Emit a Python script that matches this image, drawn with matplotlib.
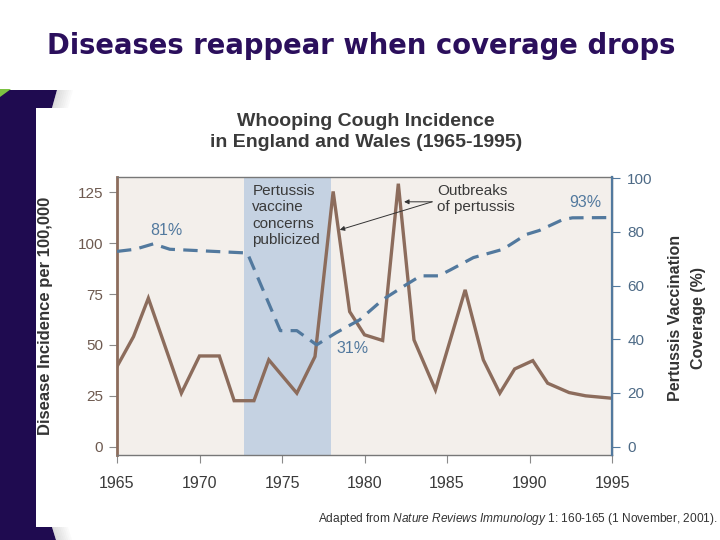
import matplotlib as mpl
import matplotlib.pyplot as plt
from matplotlib.patches import Polygon

mpl.rcParams['font.family'] = 'Liberation Sans'
mpl.rcParams['mathtext.fontset'] = 'custom'
mpl.rcParams['mathtext.it'] = 'Liberation Sans:italic'
mpl.rcParams['mathtext.rm'] = 'Liberation Sans'

# whooping cough incidence per 100,000
inc_years = [1965.0, 1966.0, 1966.9, 1968.9, 1970.0, 1971.2, 1972.1, 1973.3,
             1974.2, 1975.9, 1977.0, 1978.1, 1979.1, 1980.0, 1981.1, 1982.05,
             1983.0, 1984.3, 1986.1, 1987.2, 1988.2, 1989.1, 1990.2, 1991.1,
             1992.4, 1993.4, 1995.0]
incidence = [39.4, 54.1, 73.0, 26.3, 44.6, 44.6, 22.6, 22.6,
             42.7, 26.3, 44.3, 125.5, 66.4, 55.0, 52.2, 129.3,
             52.5, 27.9, 77.1, 42.7, 26.3, 38.2, 42.3, 31.2,
             26.6, 25.0, 23.8]

# vaccination coverage (%) on the right axis
cov_years = [1965.0, 1966.1, 1967.2, 1968.2, 1972.9, 1974.9, 1975.9, 1977.1,
             1978.3, 1979.7, 1981.1, 1982.5, 1983.4, 1984.5, 1985.2, 1986.6,
             1988.4, 1989.8, 1990.6, 1992.0, 1992.6, 1995.0]
coverage = [72.7, 73.5, 75.5, 73.5, 72.1, 43.2, 43.2, 37.9,
            42.5, 47.2, 54.7, 60.2, 63.6, 63.6, 65.8, 70.4,
            73.5, 79.0, 80.5, 84.5, 85.2, 85.3]

concern_span = (1972.7, 1978.0)
inc_ticks = [0, 25, 50, 75, 100, 125]
cov_ticks = [0, 20, 40, 60, 80, 100]
year_ticks = [1965, 1970, 1975, 1980, 1985, 1990, 1995]

brown = '#8c6c5c'
blue = '#52799e'
W, H = 720, 540

fig = plt.figure(figsize=(7.2, 5.4), dpi=100)

# slide decoration in pixel coordinates
bg = fig.add_axes([0, 0, 1, 1], zorder=-10)
bg.set_xlim(0, W)
bg.set_ylim(H, 0)
bg.set_axis_off()
navy = '#1f0b50'
bg.add_patch(Polygon([(0, 90), (57, 90), (52, 108), (36, 108), (36, 527),
                      (52, 527), (56, 540), (0, 540)], closed=True,
                     fc=navy, ec='none'))
for i in range(8):
    bg.add_patch(Polygon([(57 + 2 * i, 90), (59 + 2 * i, 90), (54 + 2 * i, 108),
                          (52 + 2 * i, 108)], fc='#9a9a9a', ec='none',
                         alpha=0.35 * (1 - i / 8)))
    bg.add_patch(Polygon([(52 + 2 * i, 527), (54 + 2 * i, 527), (58 + 2 * i, 540),
                          (56 + 2 * i, 540)], fc='#9a9a9a', ec='none',
                         alpha=0.35 * (1 - i / 8)))
bg.add_patch(Polygon([(0, 89), (11, 89), (0, 97)], fc='#7cc242', ec='none'))

bg.text(361, 46, 'Diseases reappear when coverage drops', ha='center',
        va='center', fontsize=19.8, fontweight='bold', color='#2b0f5c',
        family='DejaVu Sans')
bg.text(366, 132, 'Whooping Cough Incidence\nin England and Wales (1965-1995)',
        ha='center', va='center', fontsize=14, fontweight='bold',
        color='#3a3a3a', linespacing=1.38)
bg.text(46, 316, 'Disease Incidence per 100,000', rotation=90, ha='center',
        va='center', fontsize=12, fontweight='bold', color='#333333')
bg.text(687, 318, 'Pertussis Vaccination\nCoverage (%)', rotation=90,
        ha='center', va='center', fontsize=11.5, fontweight='bold',
        color='#333333', linespacing=1.6)
bg.text(718, 519, r'Adapted from $\it{Nature\ Reviews\ Immunology}$ 1: 160-165 '
        r'(1 November, 2001).', ha='right', va='center', fontsize=8.6,
        color='#333333')

# main chart
ax = fig.add_axes([117 / W, 1 - 455 / H, (612 - 117) / W, (455 - 177) / H])
ax.set_facecolor('#f3efeb')
ax.axvspan(*concern_span, color='#c5d2e2', lw=0, zorder=0)
ax.plot(inc_years, incidence, color=brown, lw=2.4, zorder=3,
        solid_joinstyle='miter')
ax.set_xlim(1965, 1995)
ax.set_ylim(-4.1, 132.6)
ax.set_xticks(year_ticks)
ax.set_yticks(inc_ticks)

ax2 = ax.twinx()
ax2.plot(cov_years, coverage, color=blue, lw=2.3, ls=(0, (4.5, 2.6)), zorder=4)
ax2.set_ylim(-3.1, 100.4)
ax2.set_yticks(cov_ticks)

for s in ['top', 'bottom', 'right']:
    ax.spines[s].set_color('#777777')
    ax.spines[s].set_linewidth(1.0)
ax.spines['left'].set_color(brown)
ax.spines['left'].set_linewidth(2)
ax2.spines['left'].set_visible(False)
ax2.spines['top'].set_visible(False)
ax2.spines['bottom'].set_visible(False)
ax2.spines['right'].set_color(blue)
ax2.spines['right'].set_linewidth(1.6)

ax.tick_params(axis='y', length=6, width=0.8, color='#8a8a8a',
               labelcolor='#6e5a50', labelsize=11, pad=4)
ax.tick_params(axis='x', length=6, width=0.8, color='#8a8a8a',
               labelcolor='#3a3a3a', labelsize=11.5, pad=9)
ax2.tick_params(axis='y', length=6, width=0.8, color=blue,
                labelcolor='#4d6a86', labelsize=11, pad=5)

# annotations
ax.text(1973.2, 129.3, 'Pertussis\nvaccine\nconcerns\npublicized', ha='left',
        va='top', fontsize=11, color='#3a3a3a', linespacing=1.22, zorder=5)
ax.text(1984.4, 129.3, 'Outbreaks\nof pertussis', ha='left', va='top',
        fontsize=11, color='#3a3a3a', linespacing=1.25, zorder=5)
for target in [(1978.5, 106.6), (1982.4, 120.4)]:
    ax.annotate('', xy=target, xytext=(1984.1, 120.4),
                arrowprops=dict(arrowstyle='-|>', lw=0.7, color='#333333',
                                mutation_scale=7, shrinkA=0, shrinkB=0),
                zorder=6)
ax.text(1968.0, 106.2, '81%', ha='center', va='center', fontsize=11.5,
        color=blue, zorder=5)
ax.text(1979.3, 48.1, '31%', ha='center', va='center', fontsize=11.5,
        color=blue, zorder=5)
ax.text(1993.4, 119.9, '93%', ha='center', va='center', fontsize=11.5,
        color=blue, zorder=5)

fig.savefig('out.png', dpi=100)
